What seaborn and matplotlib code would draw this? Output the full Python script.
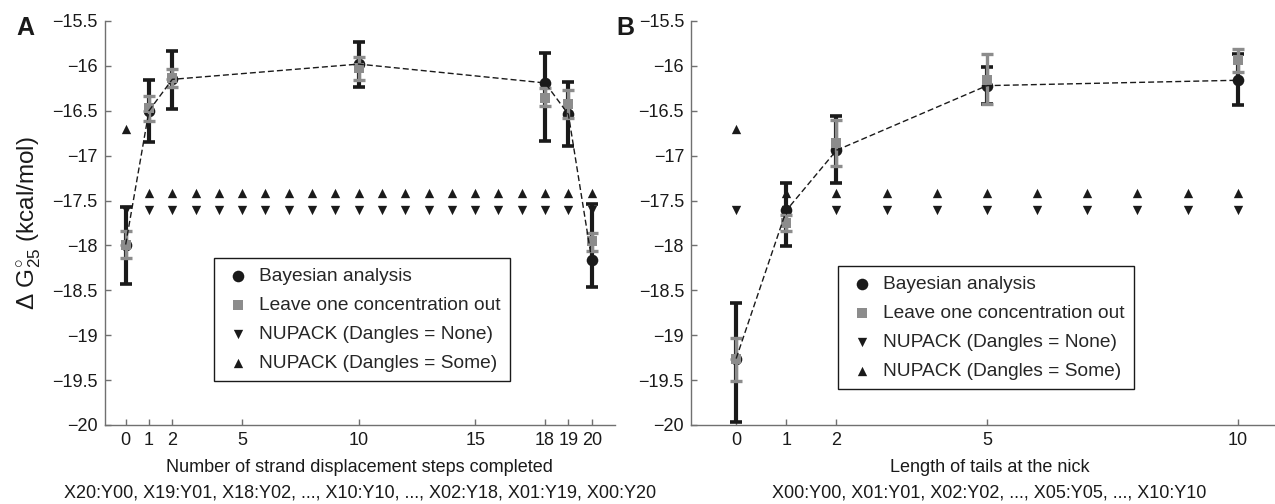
import numpy as np
import pandas as pd
import seaborn as sns
import matplotlib.pyplot as plt

# ---- panel A : strand displacement steps ----
a_steps = [0, 1, 2, 10, 18, 19, 20]
a_bayes = [-17.99, -16.50, -16.15, -15.98, -16.19, -16.54, -18.16]
a_bayes_hi = [-17.57, -16.16, -15.83, -15.73, -15.86, -16.18, -17.54]
a_bayes_lo = [-18.43, -16.85, -16.48, -16.24, -16.84, -16.89, -18.46]
a_loo = [-17.99, -16.47, -16.13, -16.02, -16.36, -16.42, -17.95]
a_loo_hi = [-17.84, -16.33, -16.03, -15.90, -16.25, -16.27, -17.86]
a_loo_lo = [-18.14, -16.61, -16.24, -16.16, -16.45, -16.58, -18.06]
a_nupack_x = [0, 1, 2, 3, 4, 5, 6, 7, 8, 9, 10, 11, 12, 13, 14, 15, 16, 17, 18, 19, 20]
a_none = [-17.6, -17.6, -17.6, -17.6, -17.6, -17.6, -17.6, -17.6, -17.6, -17.6, -17.6,
          -17.6, -17.6, -17.6, -17.6, -17.6, -17.6, -17.6, -17.6, -17.6, -17.6]
a_some = [-16.7, -17.42, -17.42, -17.42, -17.42, -17.42, -17.42, -17.42, -17.42, -17.42, -17.42,
          -17.42, -17.42, -17.42, -17.42, -17.42, -17.42, -17.42, -17.42, -17.42, -17.42]
a_xticks = [0, 1, 2, 5, 10, 15, 18, 19, 20]

# ---- panel B : tail length at the nick ----
b_tails = [0, 1, 2, 5, 10]
b_bayes = [-19.26, -17.61, -16.94, -16.22, -16.16]
b_bayes_hi = [-18.64, -17.31, -16.56, -16.01, -15.87]
b_bayes_lo = [-19.97, -18.01, -17.30, -16.43, -16.44]
b_loo = [-19.27, -17.75, -16.86, -16.16, -15.93]
b_loo_hi = [-19.03, -17.66, -16.60, -15.87, -15.815]
b_loo_lo = [-19.505, -17.84, -17.11, -16.43, -16.07]
b_nupack_x = [0, 1, 2, 3, 4, 5, 6, 7, 8, 9, 10]
b_none = [-17.6, -17.6, -17.6, -17.6, -17.6, -17.6, -17.6, -17.6, -17.6, -17.6, -17.6]
b_some = [-16.7, -17.42, -17.42, -17.42, -17.42, -17.42, -17.42, -17.42, -17.42, -17.42, -17.42]
b_xticks = [0, 1, 2, 5, 10]

yticks = [-15.5, -16, -16.5, -17, -17.5, -18, -18.5, -19, -19.5, -20]
ytick_labels = ['\u221215.5', '\u221216', '\u221216.5', '\u221217', '\u221217.5',
                '\u221218', '\u221218.5', '\u221219', '\u221219.5', '\u221220']

sns.set_style('white')
plt.rcParams['font.family'] = ['Liberation Sans', 'DejaVu Sans']
plt.rcParams['mathtext.fontset'] = 'custom'
plt.rcParams['mathtext.rm'] = 'Liberation Sans'
plt.rcParams['mathtext.it'] = 'Liberation Sans:italic'

black = '#1a1a1a'
gray = '#8c8c8c'
spine_col = '#707070'


def draw_panel(ax, x, bayes, bhi, blo, loo, lhi, llo, nx, none, some):
    bayes = np.array(bayes)
    loo = np.array(loo)
    berr = [bayes - np.array(blo), np.array(bhi) - bayes]
    lerr = [loo - np.array(llo), np.array(lhi) - loo]
    ax.errorbar(x, bayes, yerr=berr, fmt='none', ecolor=black, elinewidth=3.0,
                capsize=4.0, capthick=2.6, zorder=2)
    sns.scatterplot(x=x, y=bayes, marker='o', color=black, s=70, linewidth=0,
                    label='Bayesian analysis', ax=ax, zorder=3)
    ax.errorbar(x, loo, yerr=lerr, fmt='none', ecolor=gray, elinewidth=2.4,
                capsize=4.2, capthick=2.4, zorder=4)
    sns.scatterplot(x=x, y=loo, marker='s', color=gray, s=62, linewidth=0,
                    label='Leave one concentration out', ax=ax, zorder=5)
    sns.scatterplot(x=nx, y=none, marker='v', color=black, s=45, linewidth=0,
                    label='NUPACK (Dangles = None)', ax=ax, zorder=6)
    sns.scatterplot(x=nx, y=some, marker='^', color=black, s=45, linewidth=0,
                    label='NUPACK (Dangles = Some)', ax=ax, zorder=6)
    sns.lineplot(x=x, y=bayes, color=black, linewidth=1.0, dashes=(4.3, 2.2),
                 ax=ax, zorder=7, legend=False)

    ax.set_ylim(-20, -15.5)
    ax.set_yticks(yticks)
    ax.set_yticklabels(ytick_labels)
    for side in ['top', 'right']:
        ax.spines[side].set_visible(False)
    for side in ['left', 'bottom']:
        ax.spines[side].set_color(spine_col)
        ax.spines[side].set_linewidth(1.0)
    ax.tick_params(left=True, bottom=True, direction='in', length=4.5, width=1,
                   color=spine_col, labelsize=13, pad=5, labelcolor=black)
    ax.set_xlabel('')
    ax.set_ylabel('')


fig = plt.figure(figsize=(12.75, 5.04), dpi=100)
bottom = 1 - 425 / 504
height = (425 - 21) / 504
axA = fig.add_axes([104.7 / 1275, bottom, (615 - 104.7) / 1275, height])
axB = fig.add_axes([691 / 1275, bottom, (1288 - 691) / 1275, height])

draw_panel(axA, a_steps, a_bayes, a_bayes_hi, a_bayes_lo, a_loo, a_loo_hi, a_loo_lo,
           a_nupack_x, a_none, a_some)
draw_panel(axB, b_tails, b_bayes, b_bayes_hi, b_bayes_lo, b_loo, b_loo_hi, b_loo_lo,
           b_nupack_x, b_none, b_some)

axA.set_xlim(-0.9, 21)
axA.set_xticks(a_xticks)
axB.set_xlim(-0.9, 11)
axB.set_xticks(b_xticks)

axA.set_ylabel('\u0394 $\\mathrm{G}^{\\circ}_{25}$ (kcal/mol)', fontsize=17.5, color=black)
axA.yaxis.set_label_coords(-0.12, 0.5)

axA.text(0.5, -0.104, 'Number of strand displacement steps completed', transform=axA.transAxes,
         ha='center', va='center', fontsize=13, color=black)
axA.text(0.5, -0.168, 'X20:Y00, X19:Y01, X18:Y02, ..., X10:Y10, ..., X02:Y18, X01:Y19, X00:Y20',
         transform=axA.transAxes, ha='center', va='center', fontsize=13, color=black)
axB.text(0.5, -0.104, 'Length of tails at the nick', transform=axB.transAxes,
         ha='center', va='center', fontsize=13, color=black)
axB.text(0.5, -0.168, 'X00:Y00, X01:Y01, X02:Y02, ..., X05:Y05, ..., X10:Y10',
         transform=axB.transAxes, ha='center', va='center', fontsize=13, color=black)

for ax, (lx, ly) in [(axA, (214, 258)), (axB, (838, 266))]:
    leg = ax.legend(loc='upper left', bbox_to_anchor=(lx / 1275, 1 - ly / 504),
                    bbox_transform=fig.transFigure, borderaxespad=0, fontsize=13.8,
                    frameon=True, fancybox=False, framealpha=1, edgecolor=black,
                    handletextpad=0.35, labelspacing=0.6, borderpad=0.5, handlelength=1.5)
    leg.get_frame().set_linewidth(1.0)

fig.text(16 / 1275, 1 - 28 / 504, 'A', fontsize=18, fontweight='bold', va='center', color=black)
fig.text(616 / 1275, 1 - 28 / 504, 'B', fontsize=18, fontweight='bold', va='center', color=black)

plt.savefig('out.png', dpi=100)
plt.close()
